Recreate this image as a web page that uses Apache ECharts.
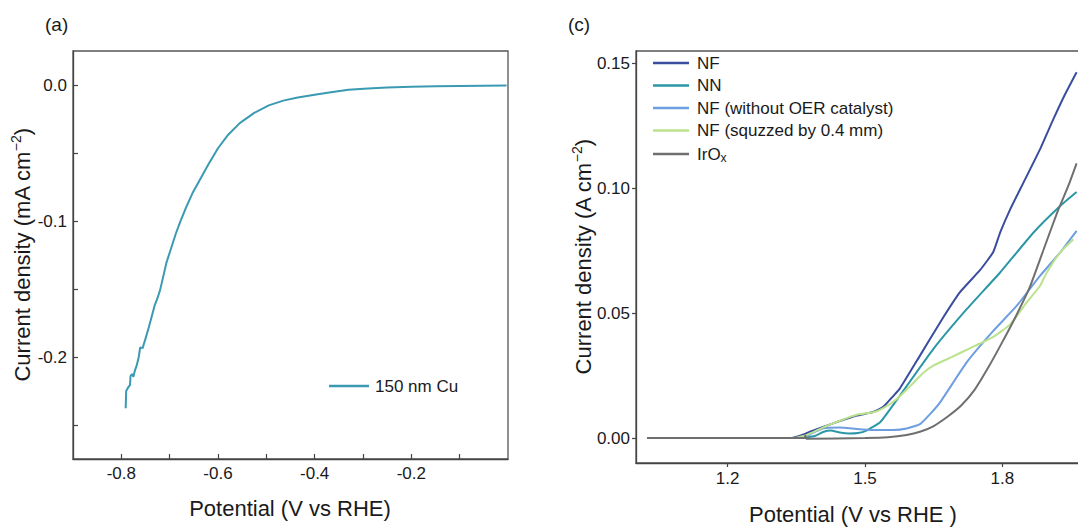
<!DOCTYPE html>
<html>
<head>
<meta charset="utf-8">
<script src="https://cdn.jsdelivr.net/npm/echarts@6/dist/echarts.min.js"></script>
<style>html,body{margin:0;padding:0;background:#fff;overflow:hidden}#c{width:1078px;height:527px}</style>
</head>
<body>
<div id="c"></div>
<script>
// ---------- Panel (a) data: potential (V vs RHE), current density (mA cm-2)
const cuSeriesName = '150 nm Cu';
const cuCurve = [[-0.791,-0.2377],[-0.790,-0.2250],[-0.786,-0.2225],[-0.782,-0.2205],[-0.781,-0.2140],[-0.778,-0.2125],[-0.775,-0.2145],[-0.772,-0.2100],[-0.768,-0.2060],[-0.764,-0.2000],[-0.761,-0.1930],[-0.756,-0.1935],[-0.750,-0.1865],[-0.743,-0.1780],[-0.737,-0.1700],[-0.731,-0.1620],[-0.726,-0.1575],[-0.720,-0.1510],[-0.714,-0.1420],[-0.707,-0.1310],[-0.697,-0.1200],[-0.687,-0.1090],[-0.678,-0.1005],[-0.666,-0.0900],[-0.652,-0.0790],[-0.638,-0.0700],[-0.620,-0.0585],[-0.600,-0.0465],[-0.580,-0.0370],[-0.555,-0.0280],[-0.525,-0.0205],[-0.495,-0.0150],[-0.465,-0.0115],[-0.435,-0.0092],[-0.400,-0.0072],[-0.370,-0.0055],[-0.330,-0.0035],[-0.290,-0.0025],[-0.250,-0.0018],[-0.200,-0.0012],[-0.150,-0.0009],[-0.100,-0.0007],[-0.050,-0.0005],[-0.003,-0.0004]];
const aXLabels = [-0.8,-0.6,-0.4,-0.2];
const aXTicks = [-0.8,-0.7,-0.6,-0.5,-0.4,-0.3,-0.2,-0.1];
const aYLabels = [0,-0.1,-0.2];
const aYTicks = [0,-0.05,-0.1,-0.15,-0.2,-0.25];

// ---------- Panel (c) data: potential (V vs RHE), current density (A cm-2)
const cNames = ['NF','NN','NF (without OER catalyst)','NF (squzzed by 0.4 mm)','IrOx'];
const nfCurve = [[1.024,0],[1.34,0],[1.36,0.001],[1.38,0.0025],[1.41,0.0045],[1.445,0.0068],[1.482,0.0090],[1.518,0.0104],[1.54,0.0125],[1.562,0.0169],[1.576,0.0198],[1.62,0.033],[1.664,0.0463],[1.707,0.0583],[1.751,0.0672],[1.78,0.0745],[1.795,0.0823],[1.817,0.0916],[1.846,0.1023],[1.882,0.1156],[1.911,0.1276],[1.935,0.137],[1.962,0.1465]];
const nnCurve = [[1.024,0],[1.36,0],[1.39,0.0008],[1.41,0.0025],[1.425,0.003],[1.445,0.0022],[1.465,0.0018],[1.485,0.002],[1.503,0.003],[1.533,0.0063],[1.555,0.0116],[1.576,0.0169],[1.649,0.0356],[1.722,0.0516],[1.795,0.0663],[1.868,0.0823],[1.926,0.0929],[1.962,0.0985]];
const nfNoCatCurve = [[1.024,0],[1.36,0],[1.38,0.0015],[1.409,0.0039],[1.445,0.0042],[1.482,0.0036],[1.518,0.0032],[1.562,0.0032],[1.591,0.0038],[1.62,0.0056],[1.642,0.0096],[1.664,0.0143],[1.722,0.0303],[1.78,0.0429],[1.831,0.0529],[1.882,0.0649],[1.926,0.0743],[1.962,0.083]];
const nfSqueezedCurve = [[1.024,0],[1.345,0],[1.373,0.0012],[1.409,0.0043],[1.445,0.0069],[1.482,0.0093],[1.518,0.0103],[1.54,0.012],[1.569,0.0155],[1.60,0.021],[1.627,0.026],[1.649,0.029],[1.69,0.0325],[1.73,0.036],[1.78,0.0405],[1.817,0.0455],[1.853,0.0543],[1.882,0.0609],[1.897,0.0663],[1.926,0.0743],[1.955,0.0796]];
const iroxCurve = [[1.024,0],[1.368,0],[1.370,0.001],[1.372,-0.0003],[1.50,0],[1.55,0.0003],[1.591,0.0012],[1.62,0.0025],[1.65,0.0048],[1.68,0.0085],[1.71,0.013],[1.74,0.0195],[1.77,0.0285],[1.80,0.0385],[1.83,0.049],[1.86,0.0605],[1.89,0.0755],[1.92,0.0905],[1.945,0.1015],[1.962,0.110]];
const cXLabels = [1.2,1.5,1.8];
const cYLabels = [0,0.05,0.10,0.15];

const FONT = '"Liberation Sans", Arial, sans-serif';
const TXT = '#1a1a1a';
const AX = '#444';

const chart = echarts.init(document.getElementById('c'), null, {renderer: 'svg'});

function axisCommon(extra) {
  return Object.assign({
    axisLine: {show: true, onZero: false, lineStyle: {color: AX, width: 1.3}},
    splitLine: {show: false},
  }, extra);
}

const option = {
  animation: false,
  backgroundColor: '#fff',
  grid: [
    {left: 73, top: 51, width: 435, height: 408, show: true, borderColor: '#555', borderWidth: 1.3, outerBoundsMode: 'none', containLabel: false},
    {left: 636, top: 51, width: 458, height: 412, show: true, borderColor: '#555', borderWidth: 1.3, outerBoundsMode: 'none', containLabel: false}
  ],
  xAxis: [
    axisCommon({type: 'value', gridIndex: 0, min: -0.9, max: 0,
      axisTick: {show: true, inside: true, length: 5, customValues: aXTicks, lineStyle: {color: AX, width: 1.2}},
      axisLabel: {color: TXT, fontSize: 17, fontFamily: FONT, margin: 6, customValues: aXLabels, formatter: v => v.toFixed(1)}}),
    axisCommon({type: 'value', gridIndex: 1, min: 1.0, max: 2.0,
      axisTick: {show: true, inside: false, length: 4, customValues: cXLabels, lineStyle: {color: AX, width: 1.2}},
      axisLabel: {color: TXT, fontSize: 17, fontFamily: FONT, margin: 7, customValues: cXLabels, formatter: v => v.toFixed(1)}})
  ],
  yAxis: [
    axisCommon({type: 'value', gridIndex: 0, min: -0.275, max: 0.025,
      axisTick: {show: true, inside: true, length: 5, customValues: aYTicks, lineStyle: {color: AX, width: 1.2}},
      axisLabel: {color: TXT, fontSize: 17, fontFamily: FONT, margin: 6, customValues: aYLabels, formatter: v => v.toFixed(1)}}),
    axisCommon({type: 'value', gridIndex: 1, min: -0.01, max: 0.155,
      axisTick: {show: true, inside: false, length: 4, customValues: cYLabels, lineStyle: {color: AX, width: 1.2}},
      axisLabel: {color: TXT, fontSize: 17, fontFamily: FONT, margin: 6, customValues: cYLabels, formatter: v => v.toFixed(2)}})
  ],
  legend: [
    {data: [cuSeriesName], left: 329, top: 376, padding: 0, icon: 'rect', itemWidth: 40, itemHeight: 2.5,
      textStyle: {color: TXT, fontSize: 17, fontFamily: FONT, lineHeight: 20, padding: [0,0,0,1]}},
    {data: cNames, orient: 'vertical', left: 653, top: 53, padding: 0, icon: 'rect', itemWidth: 36, itemHeight: 2.5, itemGap: 2.5,
      formatter: n => n === 'IrOx' ? 'IrO{sub|x}' : n,
      textStyle: {color: TXT, fontSize: 17, fontFamily: FONT, lineHeight: 20, padding: [0,0,0,3],
        rich: {sub: {fontSize: 12, fontFamily: FONT, color: TXT, lineHeight: 20, verticalAlign: 'bottom', padding: [9,0,0,0]}}}}
  ],
  series: [
    {name: cuSeriesName, type: 'line', xAxisIndex: 0, yAxisIndex: 0, data: cuCurve, symbol: 'none',
      lineStyle: {color: '#3a9ab2', width: 2}, itemStyle: {color: '#3a9ab2'}},
    {name: cNames[0], type: 'line', xAxisIndex: 1, yAxisIndex: 1, data: nfCurve, symbol: 'none', smooth: 0.15,
      lineStyle: {color: '#3a4d9f', width: 2}, itemStyle: {color: '#3a4d9f'}},
    {name: cNames[1], type: 'line', xAxisIndex: 1, yAxisIndex: 1, data: nnCurve, symbol: 'none', smooth: 0.15,
      lineStyle: {color: '#2b97a6', width: 2}, itemStyle: {color: '#2b97a6'}},
    {name: cNames[2], type: 'line', xAxisIndex: 1, yAxisIndex: 1, data: nfNoCatCurve, symbol: 'none', smooth: 0.15,
      lineStyle: {color: '#6d9ee0', width: 2}, itemStyle: {color: '#6d9ee0'}},
    {name: cNames[3], type: 'line', xAxisIndex: 1, yAxisIndex: 1, data: nfSqueezedCurve, symbol: 'none', smooth: 0.15,
      lineStyle: {color: '#bbe28c', width: 2}, itemStyle: {color: '#bbe28c'}},
    {name: cNames[4], type: 'line', xAxisIndex: 1, yAxisIndex: 1, data: iroxCurve, symbol: 'none', smooth: 0.15,
      lineStyle: {color: '#6f6f6f', width: 2}, itemStyle: {color: '#6f6f6f'}}
  ],
  graphic: [
    {type: 'text', left: 45, top: 15, style: {text: '(a)', fontSize: 19, fontFamily: FONT, fill: TXT}},
    {type: 'text', left: 568, top: 15, style: {text: '(c)', fontSize: 19, fontFamily: FONT, fill: TXT}},
    {type: 'text', x: 290, y: 508, style: {text: 'Potential (V vs RHE)', x: 0, y: 0, align: 'center', verticalAlign: 'middle', fontSize: 22, fontFamily: FONT, fill: TXT}},
    {type: 'text', x: 853, y: 514, style: {text: 'Potential (V vs RHE )', x: 0, y: 0, align: 'center', verticalAlign: 'middle', fontSize: 22, fontFamily: FONT, fill: TXT}},
    {type: 'text', x: 22, y: 255, rotation: Math.PI / 2, style: {text: 'Current density (mA cm{sup|−2})', x: 0, y: 0, align: 'center', verticalAlign: 'middle', fontSize: 22, fontFamily: FONT, fill: TXT,
      rich: {sup: {fontSize: 14, fontFamily: FONT, fill: TXT, verticalAlign: 'top', lineHeight: 26}}}},
    {type: 'text', x: 583, y: 257, rotation: Math.PI / 2, style: {text: 'Current density (A cm{sup|−2})', x: 0, y: 0, align: 'center', verticalAlign: 'middle', fontSize: 22, fontFamily: FONT, fill: TXT,
      rich: {sup: {fontSize: 14, fontFamily: FONT, fill: TXT, verticalAlign: 'top', lineHeight: 26}}}}
  ]
};
chart.setOption(option);
</script>
</body>
</html>
